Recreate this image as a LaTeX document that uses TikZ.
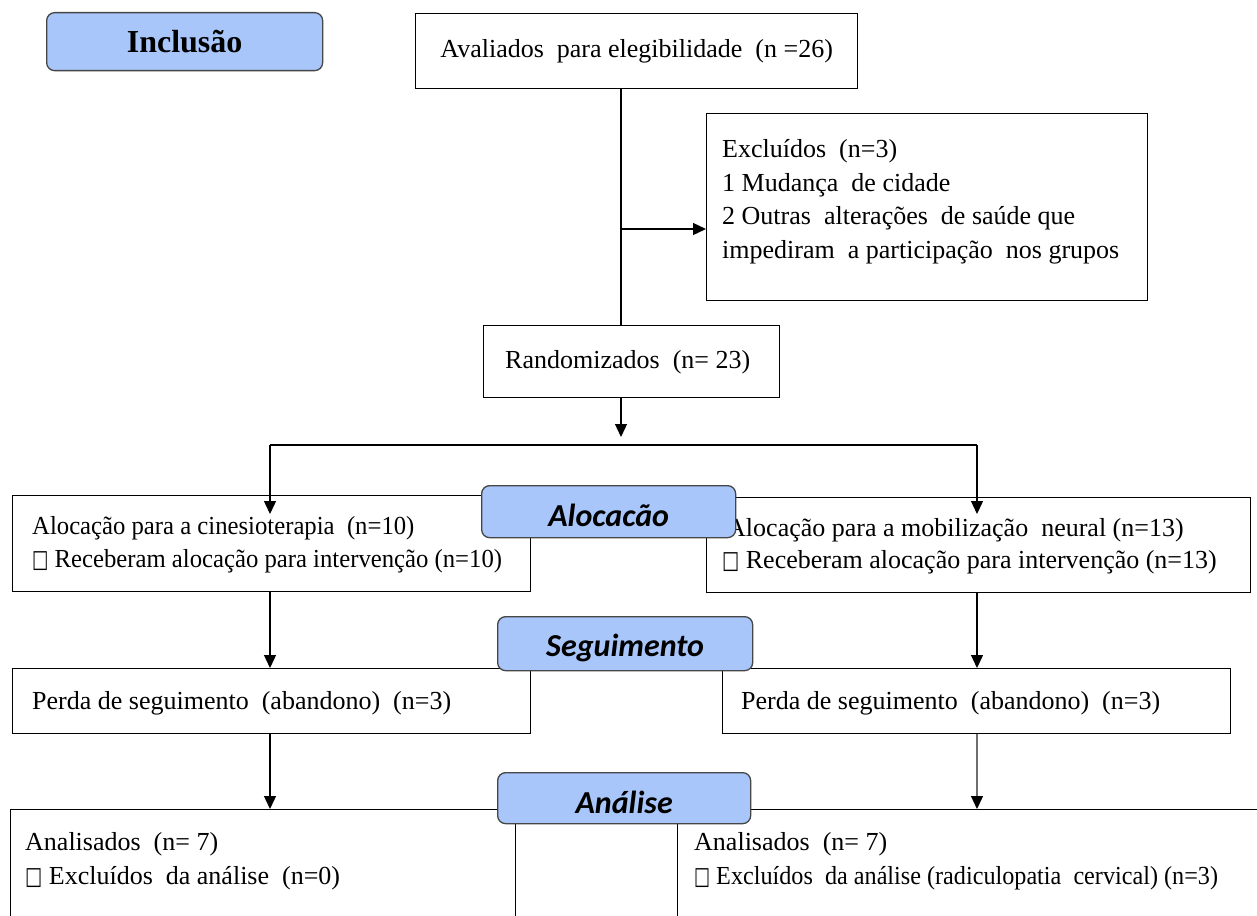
\documentclass[tikz,border=0pt]{standalone}
\usepackage{fontspec}
\setmainfont{Liberation Serif}
\newfontfamily\labfont{Carlito}
\newfontfamily\symfont{DejaVu Sans}
\usetikzlibrary{arrows.meta}
\definecolor{labfill}{RGB}{168,198,250}
\definecolor{labdraw}{RGB}{70,70,70}
\definecolor{grayline}{RGB}{110,110,110}
\newcommand{\cb}{{\symfont\scalebox{0.7}[0.95]{□}}}
\newcommand{\cond}[1]{\scalebox{0.95}[1]{#1}}
\begin{document}
\begin{tikzpicture}[x=1pt,y=-1pt,
  box/.style={draw=black,line width=1.3pt,anchor=north west,inner sep=0pt},
  txt/.style={anchor=west,inner sep=0pt,font=\fontsize{26}{33}\selectfont},
  lab/.style={draw=labdraw,fill=labfill,line width=1.3pt,rounded corners=8pt,anchor=north west,inner sep=0pt},
  labtxt/.style={font=\labfont\bfseries\itshape\fontsize{32}{32}\selectfont,yshift=-4pt},
  arr/.style={line width=1.3pt,-{Triangle[length=13pt,width=12pt,color=black]}},
  ln/.style={line width=1.3pt}]
\clip (0,0) rectangle (1257,915);
\fill[white] (0,0) rectangle (1257,915);
% coordinates for vertical connectors
\coordinate (spine) at (621,0);
\coordinate (colL) at (270,0);
\coordinate (colR) at (977,0);
% boxes
\node[box,minimum width=442pt,minimum height=75pt] (aval) at (415,13) {};
\node[txt,anchor=center] at (aval.center) {Avaliados\ \ para elegibilidade\ \ (n =26)};
\node[box,minimum width=441pt,minimum height=187pt] (excl) at (706,113) {};
\node[txt] (e1) at (722,151) {Excluídos\ \ (n=3)};
\node[txt] (e2) at (722,185) {1 Mudança\ \ de cidade};
\node[txt] (e3) at (722,218) {2 Outras\ \ alterações\ \ de saúde que};
\node[txt] (e4) at (722,252) {impediram\ \ a participação\ \ nos grupos};
\node[box,minimum width=296pt,minimum height=72pt] (rand) at (483,325) {};
\node[txt] (rt) at (505,362) {Randomizados\ \ (n= 23)};
\node[box,minimum width=518pt,minimum height=96pt] (allocL) at (12,495) {};
\node[txt] (al1) at (32,528) {\cond{Alocação para a cinesioterapia\ \ (n=10)}};
\node[txt] (al2) at (32,561) {\cond{\cb\ Receberam alocação para intervenção (n=10)}};
\node[box,minimum width=544pt,minimum height=95pt] (allocR) at (706,497) {};
\node[txt] (ar1) at (727,530) {Alocação para a mobilização\ \ neural (n=13)};
\node[txt] (ar2) at (722,562) {\cb\ Receberam alocação para intervenção (n=13)};
\node[box,minimum width=518pt,minimum height=65pt] (perdaL) at (12,668) {};
\node[txt] (pl) at (32,703) {Perda de seguimento\ \ (abandono)\ \ (n=3)};
\node[box,minimum width=508pt,minimum height=65pt] (perdaR) at (722,668) {};
\node[txt] (pr) at (741,703) {Perda de seguimento\ \ (abandono)\ \ (n=3)};
\node[box,minimum width=505pt,minimum height=160pt] (anL) at (10,809) {};
\node[txt] (anl1) at (25,844) {Analisados\ \ (n= 7)};
\node[txt] (anl2) at (25,878) {\cb\ Excluídos\ \ da análise\ \ (n=0)};
\node[box,minimum width=600pt,minimum height=160pt] (anR) at (677,809) {};
\node[txt] (anr1) at (694,844) {Analisados\ \ (n= 7)};
\node[txt] (anr2) at (694,878) {\scalebox{0.93}[1]{\cb\ Excluídos\ \ da análise (radiculopatia\ \ cervical) (n=3)}};
% connectors
\draw[ln] (aval.south -| spine) -- (rand.north -| spine);
\coordinate (br) at (621,229);
\draw[arr] (br) -- (br -| excl.west);
\coordinate (split) at (621,445);
\draw[arr] (rand.south -| spine) -- (621,437);
\draw[ln] (split -| colL) -- (split -| colR);
\draw[arr] (split -| colL) -- (270,514);
\draw[arr] (split -| colR) -- (977,514);
\draw[arr] (allocL.south -| colL) -- (perdaL.north -| colL);
\draw[arr] (allocR.south -| colR) -- (perdaR.north -| colR);
\draw[arr] (perdaL.south -| colL) -- (anL.north -| colL);
\draw[arr,draw=grayline] (perdaR.south -| colR) -- (anR.north -| colR);
% labels
\node[lab,minimum width=276pt,minimum height=58pt] (incl) at (46,12) {};
\node[font=\bfseries\fontsize{32}{32}\selectfont] at (incl.center) {Inclusão};
\node[lab,minimum width=254pt,minimum height=52pt] (laloc) at (481,485) {};
\node[labtxt] at (laloc.center) {Alocacão};
\node[lab,minimum width=255pt,minimum height=54pt] (lseg) at (497,616) {};
\node[labtxt] at (lseg.center) {Seguimento};
\node[lab,minimum width=253pt,minimum height=51pt] (lana) at (497,772) {};
\node[labtxt] at (lana.center) {Análise};
\end{tikzpicture}
\end{document}
